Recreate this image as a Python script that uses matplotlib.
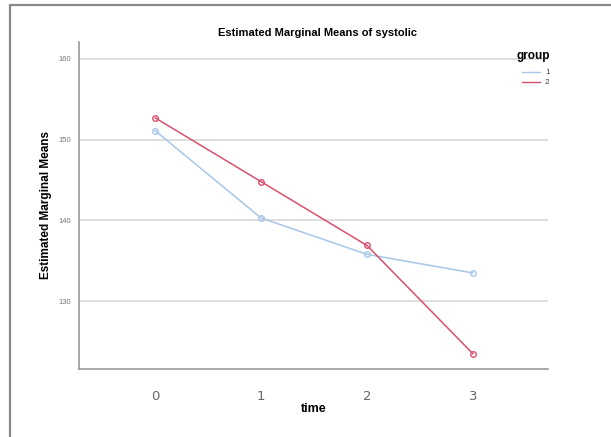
import numpy as np
import matplotlib
matplotlib.use('Agg')
import matplotlib.pyplot as plt
from matplotlib.lines import Line2D
from matplotlib.patches import Rectangle

plt.rcParams['font.family'] = ['Liberation Sans', 'DejaVu Sans']

# estimated marginal means
time_points = [0, 1, 2, 3]
group1 = [151.1, 140.3, 135.8, 133.5]
group2 = [152.7, 144.8, 136.9, 123.5]
y_ticks = [130, 140, 150, 160]
group_labels = ['1', '2']

blue = '#a8c6e6'
red = '#d9506c'

fig = plt.figure(figsize=(6.11, 4.37), dpi=100)
ax = fig.add_axes([0.1293, 0.1556, 0.7676, 0.7483])

# outer frame of the screenshot
top = 1 - 5 / 437
fig.patches.append(Rectangle((10 / 611, -0.05), 1.1, top + 0.05, transform=fig.transFigure,
                             fill=False, edgecolor='#8a8a8a', linewidth=1.6))

for yv in y_ticks:
    ax.axhline(yv, color='#dcdcdc', linewidth=1.3, zorder=0)

ax.plot(time_points, group1, color=blue, linewidth=1.1, marker='o', markersize=4,
        markerfacecolor='none', markeredgecolor=blue, markeredgewidth=1.0)
ax.plot(time_points, group2, color=red, linewidth=1.1, marker='o', markersize=4,
        markerfacecolor='none', markeredgecolor=red, markeredgewidth=1.0)

ax.set_xlim(-0.72, 3.71)
ax.set_ylim(121.6, 162.1)
ax.set_xticks(time_points)
ax.set_xticklabels([str(t) for t in time_points])
ax.set_yticks(y_ticks)
ax.tick_params(axis='y', length=0, labelsize=5.5, labelcolor='#777777', pad=6)
ax.tick_params(axis='x', length=0, labelsize=9.5, labelcolor='#666666', pad=15)
for lbl in ax.get_xticklabels():
    lbl.set_family('DejaVu Sans')
for side in ['top', 'right']:
    ax.spines[side].set_visible(False)
for side in ['left', 'bottom']:
    ax.spines[side].set_color('#9a9a9a')
    ax.spines[side].set_linewidth(1.2)

ax.set_xlabel('time', fontsize=9, fontweight='bold', labelpad=0)
ax.set_ylabel('Estimated Marginal Means', fontsize=8.5, fontweight='bold', labelpad=4)

fig.text(318 / 611, 1 - 33 / 437, 'Estimated Marginal Means of systolic', ha='center', va='center',
         fontsize=8, fontweight='bold')

# legend drawn as in the reference
fig.text(533 / 611, 1 - 56 / 437, 'group', ha='center', va='center', fontsize=8.5, fontweight='bold')
for i, (lab, col) in enumerate(zip(group_labels, [blue, red])):
    yy = 1 - (72 + i * 10) / 437
    fig.add_artist(Line2D([522 / 611, 540 / 611], [yy, yy], color=col, linewidth=1.0, transform=fig.transFigure))
    fig.text(545 / 611, yy, lab, ha='left', va='center', fontsize=6, color='#444444')

fig.savefig('out.png', dpi=100)
